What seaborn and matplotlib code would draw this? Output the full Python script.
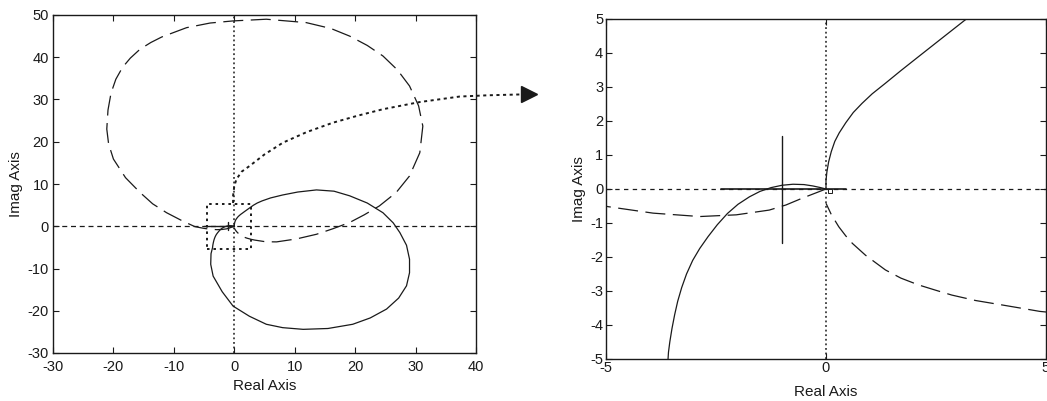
import numpy as np
import pandas as pd
import matplotlib
matplotlib.use("Agg")
import matplotlib.pyplot as plt
import seaborn as sns

sns.set_theme(style="white")
plt.rcParams['font.family'] = ['Liberation Sans', 'DejaVu Sans']

# ---------------- data ----------------
# dashed Nyquist loop (starts at origin, heads left, clockwise)
dash_x = [0.0, -0.16, -0.54, -0.91, -1.29, -2.04, -2.87, -3.93, -4.95, -6.5, -8.5, -11.2, -13.5,
          -15.6, -18.0, -20.0, -20.8, -21.1, -20.9, -20.4, -19.6, -18.5, -17.2, -15.6, -13.8, -12.0,
          -7.9, -4.0, -0.2, 5.3, 11.9, 16.0, 19.1, 22.0, 24.6, 27.0, 29.0, 30.5, 31.2, 30.7, 29.0,
          26.8, 24.0, 21.5, 19.1, 16.3, 13.6, 10.3, 7.0, 5.5, 4.86, 4.5, 4.0, 3.4, 2.86, 2.5, 2.1,
          1.7, 1.35, 0.9, 0.6, 0.45, 0.29, 0.12, 0.0]
dash_y = [0.0, -0.08, -0.27, -0.47, -0.62, -0.76, -0.81, -0.71, -0.52, -0.1, 1.2, 3.2, 5.3,
          8.0, 11.5, 15.9, 19.5, 23.0, 27.5, 31.5, 34.8, 37.6, 39.8, 41.9, 43.5, 44.8,
          47.0, 48.1, 48.6, 49.0, 48.2, 46.8, 45.0, 42.8, 40.3, 37.0, 33.2, 28.5, 23.7, 17.4, 11.9,
          8.0, 4.8, 2.7, 0.9, -0.6, -1.9, -3.0, -3.7, -3.68, -3.6, -3.52, -3.41, -3.28, -3.12,
          -2.98, -2.82, -2.62, -2.38, -1.95, -1.6, -1.38, -1.11, -0.75, -0.42]

# solid Nyquist loop (starts at origin, heads up-right, clockwise)
solid_x = [0.0, 0.0, 0.02, 0.06, 0.12, 0.2, 0.3, 0.45, 0.62, 0.82, 1.05, 1.35, 1.7, 2.1, 2.6,
           3.16, 3.8, 4.6, 6.0, 8.0, 10.5, 13.6, 16.5, 19.1, 22.0, 24.6, 26.3, 27.4, 28.5, 29.0,
           29.0, 28.5, 27.2, 25.2, 22.5, 19.6, 15.5, 11.4, 8.0, 5.3, 2.5, -0.2, -2.0, -3.5, -3.9,
           -3.85, -3.59, -3.58, -3.55, -3.50, -3.44, -3.37, -3.28, -3.17, -3.03, -2.87, -2.68,
           -2.47, -2.24, -2.0, -1.74, -1.5, -1.25, -1.0, -0.75, -0.5, -0.3, -0.12, 0.0]
solid_y = [0.0, 0.25, 0.5, 0.8, 1.1, 1.4, 1.65, 1.95, 2.25, 2.52, 2.8, 3.11, 3.48, 3.89, 4.4,
           4.97, 5.5, 6.0, 6.7, 7.4, 8.1, 8.6, 8.3, 7.2, 5.5, 3.2, 0.8, -1.5, -4.5, -7.8,
           -11.0, -14.1, -17.0, -19.6, -21.7, -23.2, -24.2, -24.4, -24.0, -23.2, -21.3, -18.9,
           -15.5, -11.8, -9.0, -6.5, -5.0, -4.8, -4.5, -4.1, -3.7, -3.3, -2.9, -2.5, -2.1, -1.75,
           -1.4, -1.05, -0.72, -0.45, -0.23, -0.07, 0.04, 0.11, 0.14, 0.13, 0.09, 0.04, 0.0]

# dotted zoom pointer curve (left panel, runs out to the arrow head)
dot_x = [-0.2, -0.2, 0.0, 0.35, 1.2, 2.56, 5.0, 8.07, 12.0, 16.3, 20.5, 24.6, 30.7, 37.3, 42.0, 47.5]
dot_y = [5.5, 7.2, 9.5, 11.1, 12.9, 14.3, 17.0, 19.8, 22.3, 24.5, 26.2, 27.7, 29.4, 30.7, 31.0, 31.2]
arrow_head = (48.8, 31.2)

# zoom box (dotted)
box_x = [-4.5, 2.8, 2.8, -4.5, -4.5]
box_y = [-5.3, -5.3, 5.2, 5.2, -5.3]

# critical point marker
crit_x = -1.0
crit_v = [-1.58, 1.56]
crit_h = [-2.38, 0.45]
crit_h_left = [-5.0, 0.0]
crit_v_left = [-1.0, 1.0]

left_xticks = [-30, -20, -10, 0, 10, 20, 30, 40]
left_yticks = [-30, -20, -10, 0, 10, 20, 30, 40, 50]
right_xticks = [-5, 0, 5]
right_yticks = [-5, -4, -3, -2, -1, 0, 1, 2, 3, 4, 5]

INK = "#1a1a1a"

fig = plt.figure(figsize=(10.47, 4.01), dpi=100, facecolor="white")
axL = fig.add_axes([53/1047, 1-353/401, (476-53)/1047, (353-15)/401])
axR = fig.add_axes([606/1047, 1-359/401, (1046-606)/1047, (359-19)/401])


def draw_curves(ax, dotted):
    sns.lineplot(x=dash_x, y=dash_y, sort=False, estimator=None, ax=ax, color=INK,
                 lw=0.9, linestyle=(0, (16, 6)))
    sns.lineplot(x=solid_x, y=solid_y, sort=False, estimator=None, ax=ax, color=INK, lw=0.9)
    if dotted:
        sns.lineplot(x=dot_x, y=dot_y, sort=False, estimator=None, ax=ax, color=INK,
                     lw=1.4, linestyle=(0, (1.6, 1.8)), clip_on=False)
        ax.plot([arrow_head[0]], [arrow_head[1]], marker=">", ms=11, color=INK, clip_on=False)
        ax.plot(box_x, box_y, color=INK, lw=1.4, linestyle=(0, (1.3, 2.0)))


def style_axes(ax, xlim, ylim, xt, yt, xpad, ypad, xlabpad, ylabpad):
    ax.set_xlim(*xlim)
    ax.set_ylim(*ylim)
    ax.set_xticks(xt)
    ax.set_yticks(yt)
    ax.set_xticklabels([str(v) for v in xt])
    ax.set_yticklabels([str(v) for v in yt])
    ax.tick_params(direction="in", length=4, width=0.8, colors=INK, labelsize=10.5,
                   top=True, right=True, bottom=True, left=True)
    ax.tick_params(axis="x", pad=xpad)
    ax.tick_params(axis="y", pad=ypad)
    for s in ax.spines.values():
        s.set_color(INK)
        s.set_linewidth(1.0)
        s.set_visible(True)
    ax.set_xlabel("Real Axis", fontsize=11, color=INK, labelpad=xlabpad)
    ax.set_ylabel("Imag Axis", fontsize=11, color=INK, labelpad=ylabpad)
    ax.set_facecolor("white")
    ax.grid(False)


# left panel
axL.axhline(0, color=INK, lw=0.9, linestyle=(0, (4, 3)))
axL.axvline(0, color=INK, lw=1.1, linestyle=(0, (1.2, 1.8)))
draw_curves(axL, dotted=True)
axL.plot(crit_h_left, [0, 0], color=INK, lw=1.0)
axL.plot([crit_x, crit_x], crit_v_left, color=INK, lw=1.0)
style_axes(axL, (-30, 40), (-30, 50), left_xticks, left_yticks, 5, 3, 4, 3)

# right panel
axR.axhline(0, color=INK, lw=0.9, linestyle=(0, (3.5, 3.5)))
axR.axvline(0, color=INK, lw=1.1, linestyle=(0, (1.2, 1.8)))
draw_curves(axR, dotted=False)
axR.plot(crit_h, [0, 0], color=INK, lw=1.2)
axR.plot([crit_x, crit_x], crit_v, color=INK, lw=1.0)
axR.plot([0.1], [-0.05], marker="s", ms=3, mfc="white", mec=INK, mew=0.7)
style_axes(axR, (-5, 5), (-5, 5), right_xticks, right_yticks, 1.5, 2, 7, 3)

fig.savefig("out.png", dpi=100, facecolor="white")
